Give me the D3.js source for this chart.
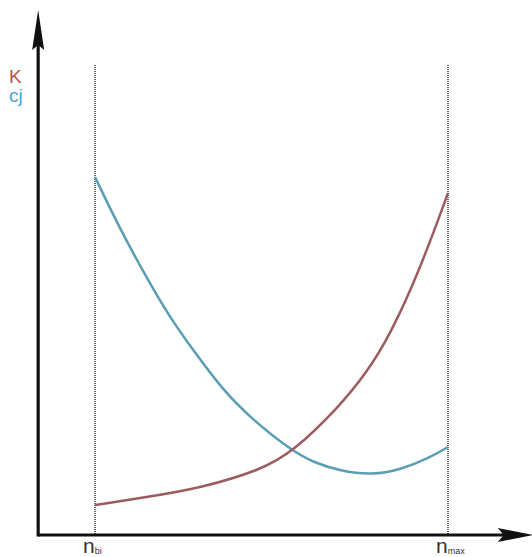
<!DOCTYPE html>
<html>
<head>
<meta charset="utf-8">
<script src="https://cdn.jsdelivr.net/npm/d3@7"></script>
<style>
html,body{margin:0;padding:0;background:#fff;}
svg{display:block;}
</style>
</head>
<body>
<svg id="chart" width="532" height="557"></svg>
<script>
// ---- data (relative units: n from n_bi=0 to n_max=1) ----
const kX  = [0, 0.15, 0.3, 0.47, 0.56, 0.69, 0.77, 0.836, 0.92, 1.0];
const kY  = [6, 7.6, 9.4, 13, 16.6, 25.5, 32.5, 40, 53, 68.4];
const cjX = [0, 0.07, 0.142, 0.21, 0.283, 0.36, 0.439, 0.558, 0.62, 0.694, 0.785, 0.864, 0.949, 1.0];
const cjY = [71.6, 61.3, 52, 43.7, 36.5, 29.2, 23.5, 16.8, 14.5, 12.8, 12.0, 13.0, 15.5, 17.6];
const seriesNames = ["K", "cj"];
const tickLabels = [{x: 0, main: "n", sub: "bi"}, {x: 1, main: "n", sub: "max"}];

const svg = d3.select("#chart");
const x = d3.scaleLinear().domain([0, 1]).range([95, 448]);
const y = d3.scaleLinear().domain([0, 100]).range([535, 35]);

const xAxisMin = -0.161, xAxisMax = 1.243;
const yAxisMax = 105, guideTop = 94;

// guide dotted verticals
svg.selectAll("line.guide").data(tickLabels).join("line")
  .attr("class","guide")
  .attr("x1", d => x(d.x)).attr("x2", d => x(d.x))
  .attr("y1", y(guideTop)).attr("y2", y(0))
  .attr("stroke", "#666").attr("stroke-width", 2)
  .attr("stroke-dasharray", "1,1");

// curves
const line = d3.line().x(d => x(d[0])).y(d => y(d[1])).curve(d3.curveBasis);
const kData = kX.map((v,i) => [v, kY[i]]);
const cjData = cjX.map((v,i) => [v, cjY[i]]);

svg.append("path").datum(cjData).attr("d", line)
  .attr("fill","none").attr("stroke","#5b9db4").attr("stroke-width",2.5);
svg.append("path").datum(kData).attr("d", line)
  .attr("fill","none").attr("stroke","#9c5c5f").attr("stroke-width",2.5);

// axes
const x0 = x(xAxisMin), yb = y(0);
svg.append("line").attr("x1", x0).attr("x2", x(xAxisMax) - 20).attr("y1", yb).attr("y2", yb)
  .attr("stroke","#111").attr("stroke-width",3.2);
svg.append("line").attr("x1", x0).attr("x2", x0).attr("y1", yb + 1.6).attr("y2", y(yAxisMax) + 25)
  .attr("stroke","#111").attr("stroke-width",3.2);
// arrowheads
const xt = x(xAxisMax);
svg.append("path")
  .attr("d", `M${xt},${yb} L${xt-36},${yb-7} L${xt-30},${yb} L${xt-36},${yb+7} Z`)
  .attr("fill","#111");
const yt = y(yAxisMax);
svg.append("path")
  .attr("d", `M${x0},${yt} L${x0-6},${yt+40} L${x0},${yt+35} L${x0+6},${yt+40} Z`)
  .attr("fill","#111");

// series labels
const labelColors = ["#b5534f", "#45a6d2"];
svg.selectAll("text.series").data(seriesNames).join("text")
  .attr("class","series")
  .attr("x", 9).attr("y", (d,i) => 83 + i*19)
  .attr("font-family","Liberation Sans, Arial, sans-serif")
  .attr("font-size", 19)
  .attr("fill", (d,i) => labelColors[i])
  .text(d => d);

// tick labels
const tl = svg.selectAll("text.tick").data(tickLabels).join("text")
  .attr("class","tick")
  .attr("x", d => x(d.x) - 12).attr("y", 553)
  .attr("font-family","Liberation Sans, Arial, sans-serif")
  .attr("fill","#333");
tl.append("tspan").attr("font-size", 21).text(d => d.main);
tl.append("tspan").attr("font-size", 9).attr("dy", 1).text(d => d.sub);
</script>
</body>
</html>
